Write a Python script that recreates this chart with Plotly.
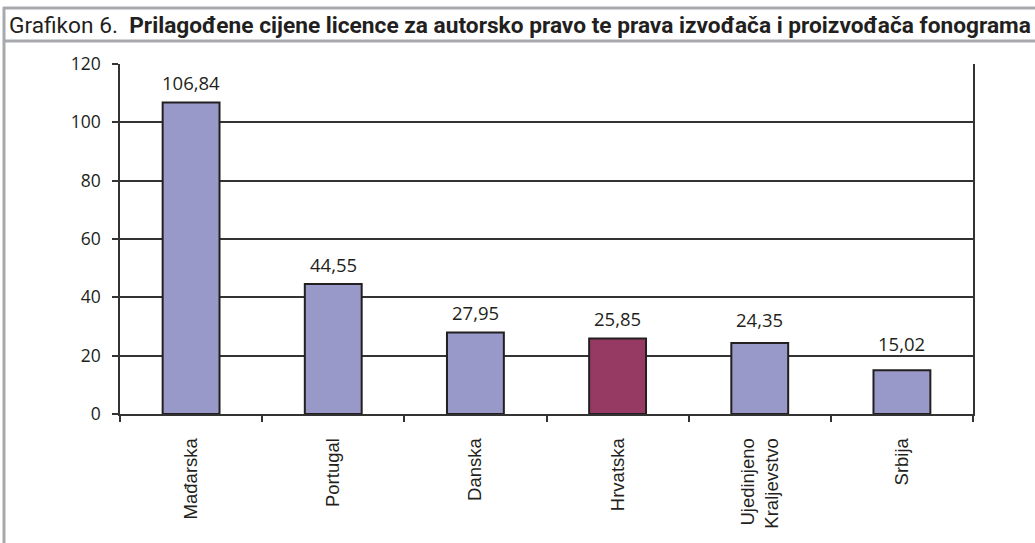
import plotly.graph_objects as go

categories = ["Mađarska", "Portugal", "Danska", "Hrvatska", "Ujedinjeno<br>Kraljevstvo", "Srbija"]
values = [106.84, 44.55, 27.95, 25.85, 24.35, 15.02]
value_labels = ["106,84", "44,55", "27,95", "25,85", "24,35", "15,02"]
bar_colors = ["#9999C9", "#9999C9", "#9999C9", "#963A63", "#9999C9", "#9999C9"]
y_ticks = [0, 20, 40, 60, 80, 100, 120]

W, H = 1035, 543
L, R, T, B = 120, 62, 64, 129
pw, ph = W - L - R, H - T - B

def px(x):
    return (x - L) / pw

def py(y):
    return (H - B - y) / ph

fig = go.Figure()
fig.add_trace(go.Bar(
    x=categories, y=values,
    marker=dict(color=bar_colors, line=dict(color="#231F20", width=2)),
    width=0.4,
    hoverinfo="skip",
))

# label offset (px above bar top); labels kept clear of gridlines as in the source
label_shift = {"Srbija": 27, "Ujedinjeno<br>Kraljevstvo": 23}
for c, v, t in zip(categories, values, value_labels):
    fig.add_annotation(x=c, y=v, text=t, showarrow=False, yshift=label_shift.get(c, 20),
                       font=dict(family="Open Sans, Lato, sans-serif", size=18.5, color="#231F20"))

grey = "#A7A9AC"
shapes = [
    dict(type="line", xref="paper", yref="paper", x0=px(3), x1=px(W), y0=py(8), y1=py(8),
         line=dict(color=grey, width=3)),
    dict(type="line", xref="paper", yref="paper", x0=px(3), x1=px(W), y0=py(41), y1=py(41),
         line=dict(color=grey, width=3)),
    dict(type="line", xref="paper", yref="paper", x0=px(4), x1=px(4), y0=py(7), y1=py(H),
         line=dict(color=grey, width=3)),
]

fig.update_layout(
    width=W, height=H,
    margin=dict(l=L, r=R, t=T, b=B),
    paper_bgcolor="white", plot_bgcolor="white",
    showlegend=False,
    shapes=shapes,
    title=dict(
        text="Grafikon 6.  <b>Prilagođene cijene licence za autorsko pravo te prava izvođača i proizvođača fonograma</b>",
        x=9 / W, xanchor="left", xref="container",
        y=1 - 25 / H, yanchor="middle", yref="container",
        font=dict(family="Roboto, Liberation Sans, sans-serif", size=22.7, color="#231F20"),
    ),
    xaxis=dict(
        type="category",
        showline=True, linecolor="#333333", linewidth=1.5,
        ticks="outside", ticklen=6, tickcolor="#333333", tickwidth=1.5,
        tickson="boundaries",
        tickangle=-90,
        ticklabelstandoff=15,
        tickfont=dict(family="Liberation Sans, Arial, sans-serif", size=18.5, color="#231F20"),
        showgrid=False,
        fixedrange=True,
    ),
    yaxis=dict(
        range=[0, 120],
        tickvals=y_ticks,
        showline=True, mirror=True, linecolor="#333333", linewidth=1.5,
        ticks="outside", ticklen=6, tickcolor="#333333", tickwidth=1.5,
        showgrid=True, gridcolor="#333333", gridwidth=1.5,
        zeroline=False,
        tickfont=dict(family="Open Sans, Lato, sans-serif", size=17.5, color="#231F20"),
        ticklabelstandoff=8,
        fixedrange=True,
    ),
)

fig.write_html("out.html", config={"displayModeBar": False},
               post_script="document.body.style.margin='0px';")
